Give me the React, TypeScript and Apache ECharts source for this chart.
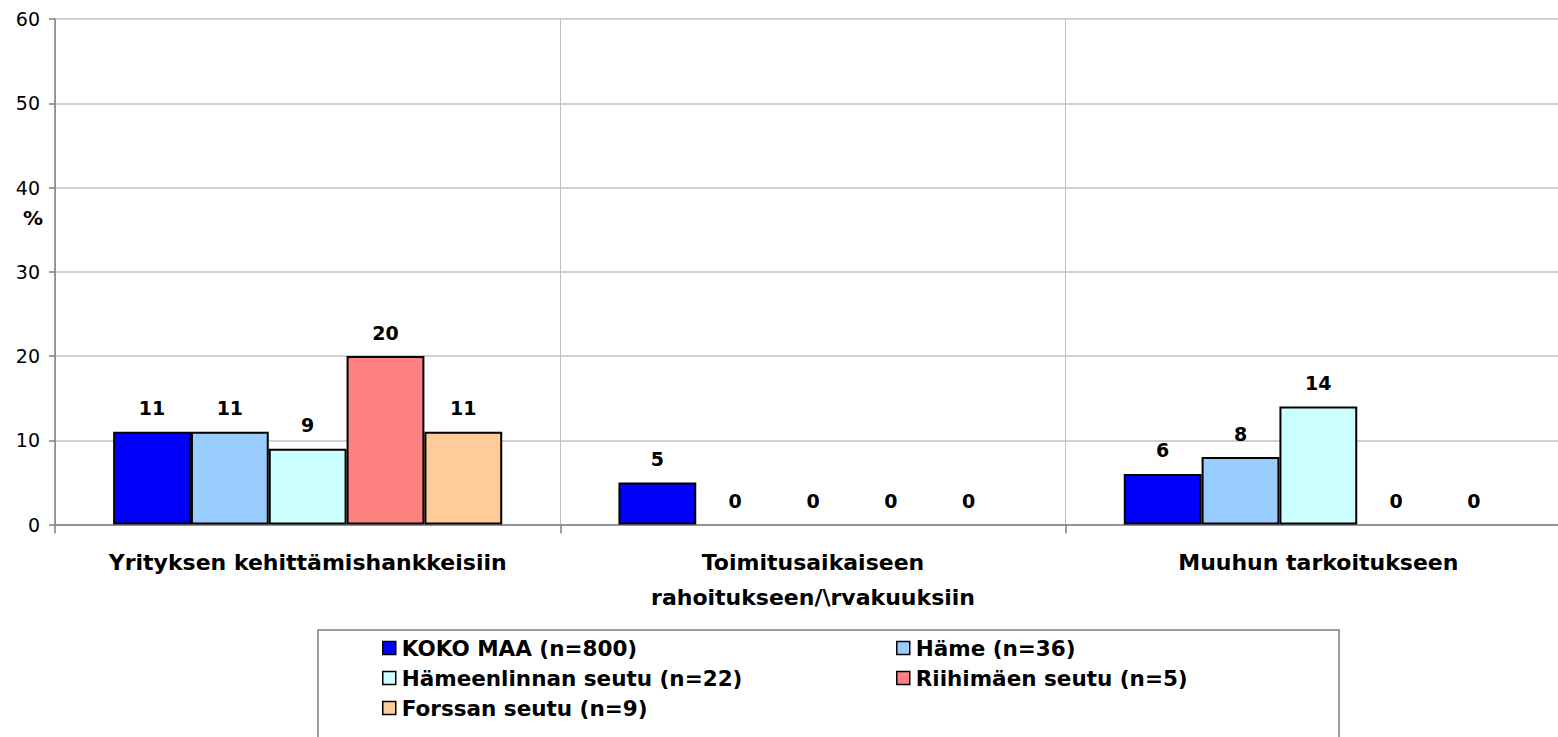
import React, { useEffect, useRef } from "react";
import * as echarts from "echarts";

const categories = [
  "Yrityksen kehittämishankkeisiin",
  "Toimitusaikaiseen\nrahoitukseen/\\rvakuuksiin",
  "Muuhun tarkoitukseen",
];
const seriesNames = [
  "KOKO MAA (n=800)",
  "Häme (n=36)",
  "Hämeenlinnan seutu (n=22)",
  "Riihimäen seutu (n=5)",
  "Forssan seutu (n=9)",
];
const seriesColors = ["#0000FF", "#99CCFF", "#CCFFFF", "#FF8080", "#FFCC99"];
const kokoMaa = [11, 5, 6];
const hame = [11, 0, 8];
const hameenlinna = [9, 0, 14];
const riihimaki = [20, 0, 0];
const forssa = [11, 0, 0];
const seriesValues = [kokoMaa, hame, hameenlinna, riihimaki, forssa];
const yTicks = { min: 0, max: 60, interval: 10 };

const FONT = "'DejaVu Sans', 'Liberation Sans', Arial, sans-serif";

export default function App() {
  const ref = useRef<HTMLDivElement>(null);
  useEffect(() => {
    document.body.style.overflow = "hidden";
    if (!ref.current) return;
    const chart = echarts.init(ref.current, null, { renderer: "svg" });
    const legendCommon = {
      orient: "vertical",
      icon: "rect",
      itemWidth: 13,
      itemHeight: 13,
      itemGap: 8,
      padding: 0,
      selectedMode: false,
      itemStyle: { borderColor: "#000", borderWidth: 1.5 },
      textStyle: {
        fontFamily: FONT,
        fontWeight: "bold",
        fontSize: 21.5,
        color: "#000",
        lineHeight: 20,
        padding: [0, 0, 0, 1],
      },
    };
    chart.setOption({
      animation: false,
      backgroundColor: "#fff",
      textStyle: { fontFamily: FONT },
      grid: { left: 55, top: 19, bottom: 212.5, right: 0, containLabel: false },
      xAxis: {
        type: "category",
        data: categories,
        axisLine: { lineStyle: { color: "#808080", width: 1.5 } },
        axisTick: { show: true, length: 9, lineStyle: { color: "#808080", width: 1.5 } },
        splitLine: { show: true, lineStyle: { color: "#c0c0c0", width: 1 } },
        axisLabel: {
          fontFamily: FONT,
          fontWeight: "bold",
          fontSize: 22,
          color: "#000",
          lineHeight: 35,
          margin: 20,
          interval: 0,
        },
      },
      yAxis: {
        type: "value",
        ...yTicks,
        axisLine: { show: true, lineStyle: { color: "#808080", width: 1.5 } },
        axisTick: { show: true, length: 6, lineStyle: { color: "#808080", width: 1.5 } },
        splitLine: { show: true, lineStyle: { color: "#c0c0c0", width: 1.5 } },
        axisLabel: {
          fontFamily: FONT,
          fontSize: 19,
          color: "#000",
          margin: 15,
        },
      },
      legend: [
        {
          ...legendCommon,
          left: 382,
          top: 637,
          data: [seriesNames[0], seriesNames[2], seriesNames[4]],
        },
        {
          ...legendCommon,
          left: 896,
          top: 637,
          data: [seriesNames[1], seriesNames[3]],
        },
      ],
      graphic: [
        {
          type: "rect",
          shape: { x: 318, y: 630, width: 1021, height: 130 },
          style: { fill: "none", stroke: "#808080", lineWidth: 1.5 },
        },
        {
          type: "text",
          x: 33,
          y: 218,
          style: {
            text: "%",
            fontFamily: FONT,
            fontWeight: "bold",
            fontSize: 20,
            fill: "#000",
            align: "center",
            verticalAlign: "middle",
          },
        },
      ],
      series: seriesNames.map((name, i) => ({
        name,
        type: "bar",
        data: seriesValues[i].map((v) =>
          v === 0 ? { value: v, itemStyle: { borderWidth: 0 } } : v
        ),
        barGap: "0%",
        barCategoryGap: "23%",
        itemStyle: { color: seriesColors[i], borderColor: "#000", borderWidth: 2 },
        label: {
          show: true,
          position: "top",
          distance: 14,
          fontFamily: FONT,
          fontWeight: "bold",
          fontSize: 19,
          color: "#000",
        },
      })),
    });
    return () => chart.dispose();
  }, []);
  return (
    <div
      ref={ref}
      style={{ position: "fixed", left: 0, top: 0, width: 1571, height: 737 }}
    />
  );
}
